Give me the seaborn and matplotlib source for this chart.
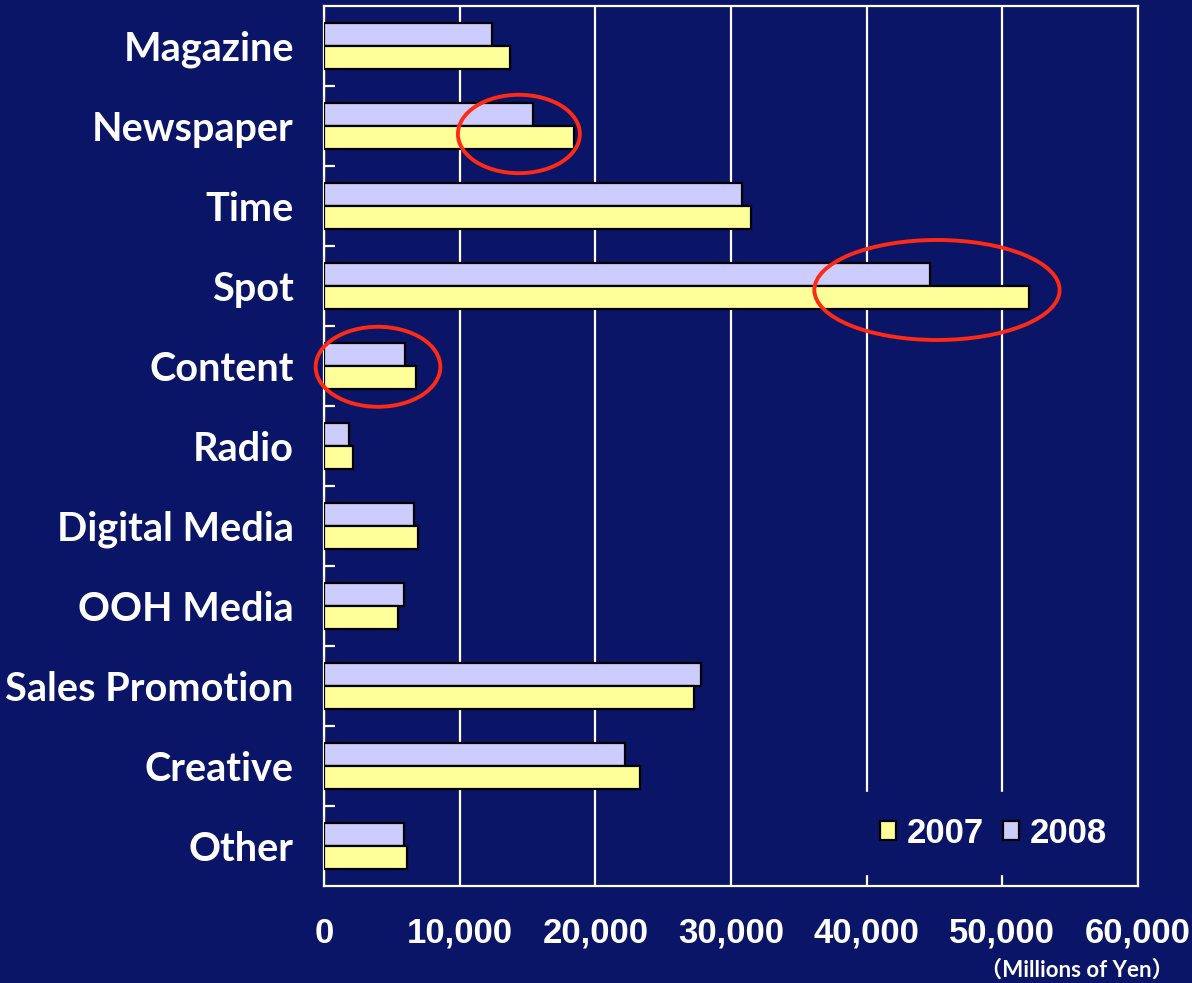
import matplotlib
matplotlib.use("Agg")
import matplotlib.pyplot as plt
from matplotlib import font_manager
from matplotlib.patches import Patch, Ellipse
from matplotlib.ticker import FixedLocator, FuncFormatter
import numpy as np
import pandas as pd
import seaborn as sns

# Advertising revenue by medium, millions of yen
categories = ["Magazine", "Newspaper", "Time", "Spot", "Content", "Radio",
              "Digital Media", "OOH Media", "Sales Promotion", "Creative", "Other"]
values_2007 = [13700, 18400, 31450, 52000, 6750, 2100, 6900, 5450, 27300, 23300, 6100]
values_2008 = [12400, 15400, 30800, 44700, 5950, 1800, 6600, 5900, 27800, 22150, 5900]
years = ["2007", "2008"]
x_ticks = [0, 10000, 20000, 30000, 40000, 50000, 60000]

# Highlighted categories (category, centre value, width, height, vertical shift)
highlights = [("Newspaper", 14350, 9000, 0.98, 0.10),
              ("Spot", 45200, 18100, 1.25, 0.05),
              ("Content", 3950, 9200, 1.00, 0.01)]

NAVY = "#0A1568"
YELLOW = "#FFFF99"
LAVENDER = "#CCCCFF"
RED = "#FF2A14"

sns.set_style("white")


def pick_family(names):
    for n in names:
        try:
            font_manager.findfont(font_manager.FontProperties(family=n),
                                  fallback_to_default=False)
            return n
        except Exception:
            continue
    return "DejaVu Sans"


narrow = pick_family(["Liberation Sans Narrow", "Lato", "Liberation Sans"])
wide = pick_family(["Liberation Sans", "DejaVu Sans"])
plt.rcParams["font.family"] = [narrow, "Noto Sans CJK JP", "DejaVu Sans"]

df = pd.DataFrame({
    "category": categories * 2,
    "value": values_2007 + values_2008,
    "year": [years[0]] * len(categories) + [years[1]] * len(categories),
})

fig = plt.figure(figsize=(11.92, 9.83), dpi=100, facecolor=NAVY)
ax = fig.add_axes([0.2722, 0.0987, 0.6821, 0.8952])
ax.set_facecolor(NAVY)

sns.barplot(data=df, y="category", x="value", hue="year",
            order=categories, hue_order=["2008", "2007"],
            palette={"2007": YELLOW, "2008": LAVENDER},
            orient="h", width=0.58, edgecolor="black", linewidth=1.6,
            saturation=1, legend=False, ax=ax, zorder=3)

ax.set_xlim(0, 60000)
ax.set_ylim(len(categories) - 0.5, -0.5)
ax.set_xlabel("")
ax.set_ylabel("")

# grid and frame
ax.set_axisbelow(True)
ax.xaxis.set_major_locator(FixedLocator(x_ticks))
ax.xaxis.set_major_formatter(FuncFormatter(lambda v, p: f"{int(v):,}"))
ax.grid(axis="x", color="white", linewidth=1.6)
ax.grid(axis="y", visible=False)
for s in ax.spines.values():
    s.set_visible(True)
    s.set_color("white")
    s.set_linewidth(1.6)

ax.tick_params(axis="x", direction="in", length=7, width=1.6, color="white",
               pad=22, labelcolor="white", labelsize=25)
for lbl in ax.get_xticklabels():
    lbl.set_fontfamily([wide, "DejaVu Sans"])
    lbl.set_fontweight("bold")

ax.yaxis.set_minor_locator(FixedLocator(np.arange(0.5, len(categories) - 1, 1.0)))
ax.tick_params(axis="y", which="major", length=0, pad=22,
               labelcolor="white", labelsize=28.5)
ax.tick_params(axis="y", which="minor", direction="in", length=8, width=1.6,
               color="white", left=True)
for lbl in ax.get_yticklabels():
    lbl.set_fontweight("bold")

# highlight rings
for cat, cx, w, h, dy in highlights:
    yi = categories.index(cat) + dy
    ax.add_patch(Ellipse((cx, yi), w, h, fill=False, edgecolor=RED,
                         linewidth=2.8, zorder=6, clip_on=False))

# legend
handles = [Patch(facecolor=YELLOW, edgecolor="black", linewidth=1.6, label="2007"),
           Patch(facecolor=LAVENDER, edgecolor="black", linewidth=1.6, label="2008")]
leg = fig.legend(handles=handles, loc="center", bbox_to_anchor=(0.8335, 0.1525),
                 ncol=2, frameon=True, facecolor=NAVY, edgecolor=NAVY, framealpha=1,
                 fancybox=False, borderpad=0.7, handlelength=0.46, handleheight=0.46,
                 handletextpad=0.3, columnspacing=0.55,
                 prop={"family": [wide, "DejaVu Sans"], "weight": "bold", "size": 25})
for t in leg.get_texts():
    t.set_color("white")

fig.text(0.9035, 0.0133, "（Millions of Yen）", color="white", fontsize=16,
         fontweight="bold", ha="center", va="center",
         family=[narrow, "Noto Sans CJK JP", "DejaVu Sans"])

fig.savefig("out.png", dpi=100, facecolor=NAVY)
